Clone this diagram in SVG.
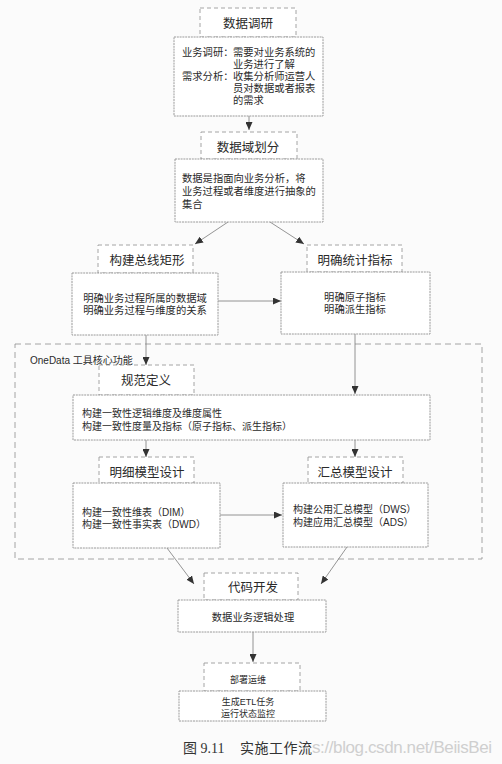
<svg xmlns="http://www.w3.org/2000/svg" width="502" height="764" viewBox="0 0 502 764">
<defs>
<marker id="ah" markerUnits="userSpaceOnUse" markerWidth="8" markerHeight="7" refX="8" refY="3.5" orient="auto">
<path d="M0,0 L8,3.5 L0,7 z" fill="#333"/>
</marker>
<style>
.tb{fill:#fff;stroke:#9a9a9a;stroke-width:0.9;stroke-dasharray:4 3}
.bx{fill:#fff;stroke:#9a9a9a;stroke-width:1;stroke-dasharray:2 0.8}
.ln{fill:none;stroke:#7a7a7a;stroke-width:0.8;marker-end:url(#ah)}
.tt{font-family:"Liberation Sans","Noto Sans CJK SC",sans-serif;font-size:12.5px;fill:#2a2a2a;text-anchor:middle}
.bd{font-family:"Liberation Sans","Noto Sans CJK SC",sans-serif;font-size:10.3px;fill:#2a2a2a}
.bc{font-family:"Liberation Sans","Noto Sans CJK SC",sans-serif;font-size:10.3px;fill:#2a2a2a;text-anchor:middle}
.sm{font-family:"Liberation Sans","Noto Sans CJK SC",sans-serif;font-size:9px;fill:#2a2a2a;text-anchor:middle}
</style>
</defs>
<rect x="0" y="0" width="502" height="764" fill="#fbfbfb"/>

<rect id="onedata" x="15" y="344" width="467" height="215" fill="none" stroke="#9a9a9a" stroke-width="0.9" stroke-dasharray="6 4"/>
<text x="30" y="364" class="bd" style="font-size:10px">OneData 工具核心功能</text>

<g id="connectors">
<line class="ln" x1="249" y1="116" x2="249" y2="130"/>
<line class="ln" x1="228" y1="222" x2="195" y2="244"/>
<line class="ln" x1="270" y1="222" x2="304" y2="244"/>
<line class="ln" x1="218" y1="301" x2="281" y2="301"/>
<line class="ln" x1="146" y1="335" x2="146" y2="365"/>
<line class="ln" x1="355" y1="334" x2="355" y2="394"/>
<line class="ln" x1="146" y1="440" x2="146" y2="457"/>
<line class="ln" x1="355" y1="440" x2="355" y2="457"/>
<line class="ln" x1="220" y1="515" x2="282" y2="515"/>
<line class="ln" x1="167" y1="548" x2="194" y2="584"/>
<line class="ln" x1="347" y1="547" x2="321" y2="584"/>
<line class="ln" x1="253" y1="632" x2="253" y2="662"/>
</g>

<g id="n1">
<rect class="tb" x="200" y="8" width="96" height="29"/>
<text x="248" y="28" class="tt">数据调研</text>
<rect class="bx" x="174" y="37" width="149" height="79"/>
<text x="182" y="56" class="bd">业务调研：</text>
<text x="233" y="56" class="bd">需要对业务系统的</text>
<text x="233" y="68" class="bd">业务进行了解</text>
<text x="182" y="80" class="bd">需求分析：</text>
<text x="233" y="80" class="bd">收集分析师运营人</text>
<text x="233" y="92" class="bd">员对数据或者报表</text>
<text x="233" y="104" class="bd">的需求</text>
</g>

<g id="n2">
<rect class="tb" x="201" y="132" width="96" height="27"/>
<text x="248" y="152" class="tt">数据域划分</text>
<rect class="bx" x="175" y="159" width="148" height="63"/>
<text x="182" y="182" class="bd">数据是指面向业务分析，将</text>
<text x="182" y="195" class="bd">业务过程或者维度进行抽象的</text>
<text x="182" y="208" class="bd">集合</text>
</g>

<g id="n3">
<rect class="tb" x="98" y="245" width="95" height="28"/>
<text x="147" y="265" class="tt">构建总线矩形</text>
<rect class="bx" x="72" y="273" width="146" height="62"/>
<text x="145" y="302" class="bc">明确业务过程所属的数据域</text>
<text x="145" y="314" class="bc">明确业务过程与维度的关系</text>
</g>

<g id="n4">
<rect class="tb" x="307" y="245" width="95" height="27"/>
<text x="355" y="265" class="tt">明确统计指标</text>
<rect class="bx" x="281" y="272" width="149" height="62"/>
<text x="355" y="301" class="bc">明确原子指标</text>
<text x="355" y="313" class="bc">明确派生指标</text>
</g>

<g id="n5">
<rect class="tb" x="99" y="365" width="95" height="30"/>
<text x="146" y="385" class="tt">规范定义</text>
<rect class="bx" x="73" y="395" width="357" height="45"/>
<text x="82" y="417" class="bd" style="font-size:10px">构建一致性逻辑维度及维度属性</text>
<text x="82" y="430" class="bd" style="font-size:10px">构建一致性度量及指标（原子指标、派生指标）</text>
</g>

<g id="n6">
<rect class="tb" x="99" y="457" width="95" height="26"/>
<text x="147" y="477" class="tt">明细模型设计</text>
<rect class="bx" x="73" y="483" width="147" height="65"/>
<text x="82" y="516" class="bd" style="font-size:10px">构建一致性维表（DIM）</text>
<text x="82" y="528" class="bd" style="font-size:10px">构建一致性事实表（DWD）</text>
</g>

<g id="n7">
<rect class="tb" x="308" y="457" width="95" height="26"/>
<text x="355" y="477" class="tt">汇总模型设计</text>
<rect class="bx" x="283" y="483" width="145" height="64"/>
<text x="293" y="513" class="bd" style="font-size:10px">构建公用汇总模型（DWS）</text>
<text x="293" y="526" class="bd" style="font-size:10px">构建应用汇总模型（ADS）</text>
</g>

<g id="n8">
<rect class="tb" x="204" y="573" width="94" height="27"/>
<text x="253" y="592" class="tt">代码开发</text>
<rect class="bx" x="178" y="600" width="148" height="32"/>
<text x="253" y="621" class="bc">数据业务逻辑处理</text>
</g>

<g id="n9">
<rect class="tb" x="204" y="663" width="96" height="28"/>
<text x="248" y="683" class="sm">部署运维</text>
<rect class="bx" x="179" y="691" width="147" height="30"/>
<text x="248" y="705" class="sm">生成ETL任务</text>
<text x="248" y="717" class="sm">运行状态监控</text>
</g>

<g id="caption">
<text x="183" y="753" font-family="Liberation Serif,Noto Sans CJK SC,serif" font-size="14" fill="#333">图 9.11</text>
<text x="240" y="753" font-family="Liberation Serif,Noto Sans CJK SC,serif" font-size="14" fill="#333" textLength="72">实施工作流</text>
<text x="312" y="753" font-family="Liberation Sans,sans-serif" font-size="17" fill="#cfcfcf" textLength="180">s://blog.csdn.net/BeiisBei</text>
</g>
</svg>
